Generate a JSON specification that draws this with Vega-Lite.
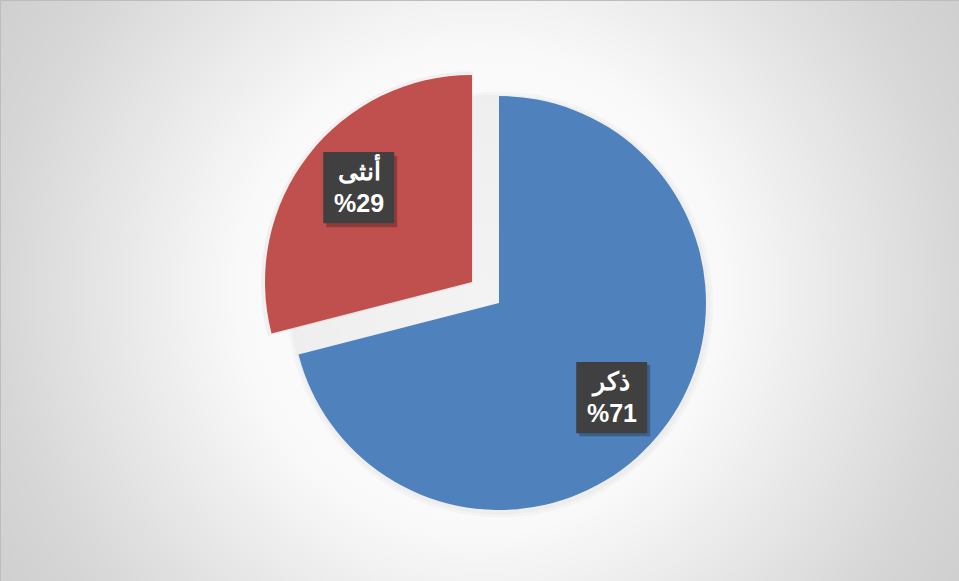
{
  "$schema": "https://vega.github.io/schema/vega-lite/v6.json",
  "width": 959,
  "height": 581,
  "autosize": {"type": "fit", "contains": "padding"},
  "padding": 0,
  "background": "#d0d0d0",
  "view": {
    "stroke": "#bdbdbd",
    "strokeWidth": 1,
    "fill": {
      "gradient": "radial",
      "x1": 0.5, "y1": 0.5, "r1": 0,
      "x2": 0.5, "y2": 0.5, "r2": 0.72,
      "stops": [
        {"offset": 0, "color": "#ffffff"},
        {"offset": 0.35, "color": "#f9f9f9"},
        {"offset": 0.7, "color": "#d6d6d6"},
        {"offset": 1, "color": "#c4c4c4"}
      ]
    }
  },
  "data": {
    "values": [
      {"gender": "ذكر", "value": 71, "order": 1, "label": "ذكر\n%71"},
      {"gender": "أنثى", "value": 29, "order": 2, "label": "أنثى\n%29"}
    ]
  },
  "encoding": {
    "theta": {"field": "value", "type": "quantitative", "stack": true},
    "order": {"field": "order", "type": "quantitative"}
  },
  "layer": [
    {
      "mark": {"type": "arc", "outerRadius": 213, "xOffset": 20.5, "yOffset": 14, "color": "#000000", "opacity": 0.025},
      "encoding": {}
    },
    {
      "mark": {"type": "arc", "outerRadius": 210, "xOffset": 20.5, "yOffset": 14, "color": "#000000", "opacity": 0.025},
      "encoding": {}
    },
    {
      "mark": {"type": "arc", "outerRadius": 212, "xOffset": -6.5, "yOffset": -7, "color": "#000000"},
      "encoding": {
        "opacity": {"condition": {"test": "datum.gender === 'أنثى'", "value": 0.04}, "value": 0}
      }
    },
    {
      "mark": {"type": "arc", "outerRadius": 207, "xOffset": 19.5, "yOffset": 12.5},
      "encoding": {
        "color": {"field": "gender", "type": "nominal", "scale": {"domain": ["ذكر", "أنثى"], "range": ["#4F81BD", "#C0504D"]}, "legend": null},
        "opacity": {"condition": {"test": "datum.gender === 'ذكر'", "value": 1}, "value": 0}
      }
    },
    {
      "mark": {"type": "arc", "outerRadius": 207, "xOffset": -7.5, "yOffset": -8.5},
      "encoding": {
        "color": {"field": "gender", "type": "nominal", "scale": {"domain": ["ذكر", "أنثى"], "range": ["#4F81BD", "#C0504D"]}, "legend": null},
        "opacity": {"condition": {"test": "datum.gender === 'أنثى'", "value": 1}, "value": 0}
      }
    },
    {
      "mark": {"type": "text", "radius": 148, "xOffset": 18.5, "yOffset": 18.5, "dy": -3, "text": "■", "font": "DejaVu Sans", "fontSize": 93, "color": "#000000", "align": "center", "baseline": "middle"},
      "encoding": {
        "opacity": {"condition": {"test": "datum.gender === 'ذكر'", "value": 0.25}, "value": 0}
      }
    },
    {
      "mark": {"type": "text", "radius": 148, "xOffset": -0.5, "yOffset": -8.5, "dy": -3, "text": "■", "font": "DejaVu Sans", "fontSize": 93, "color": "#000000", "align": "center", "baseline": "middle"},
      "encoding": {
        "opacity": {"condition": {"test": "datum.gender === 'أنثى'", "value": 0.25}, "value": 0}
      }
    },
    {
      "mark": {"type": "text", "radius": 148, "xOffset": 15.5, "yOffset": 15.5, "dy": -3, "text": "■", "font": "DejaVu Sans", "fontSize": 93, "color": "#404040", "align": "center", "baseline": "middle"},
      "encoding": {
        "opacity": {"condition": {"test": "datum.gender === 'ذكر'", "value": 1}, "value": 0}
      }
    },
    {
      "mark": {"type": "text", "radius": 148, "xOffset": -3.5, "yOffset": -12.5, "dy": -3, "text": "■", "font": "DejaVu Sans", "fontSize": 93, "color": "#404040", "align": "center", "baseline": "middle"},
      "encoding": {
        "opacity": {"condition": {"test": "datum.gender === 'أنثى'", "value": 1}, "value": 0}
      }
    },
    {
      "mark": {"type": "text", "radius": 148, "xOffset": 15.5, "yOffset": 15.5, "dy": -15, "lineBreak": "\n", "lineHeight": 32, "font": "Liberation Sans", "fontSize": 25, "fontWeight": "bold", "color": "#ffffff", "align": "center", "baseline": "middle"},
      "encoding": {
        "text": {"field": "label"},
        "opacity": {"condition": {"test": "datum.gender === 'ذكر'", "value": 1}, "value": 0}
      }
    },
    {
      "mark": {"type": "text", "radius": 148, "xOffset": -3.5, "yOffset": -12.5, "dy": -15, "lineBreak": "\n", "lineHeight": 32, "font": "Liberation Sans", "fontSize": 25, "fontWeight": "bold", "color": "#ffffff", "align": "center", "baseline": "middle"},
      "encoding": {
        "text": {"field": "label"},
        "opacity": {"condition": {"test": "datum.gender === 'أنثى'", "value": 1}, "value": 0}
      }
    }
  ]
}
